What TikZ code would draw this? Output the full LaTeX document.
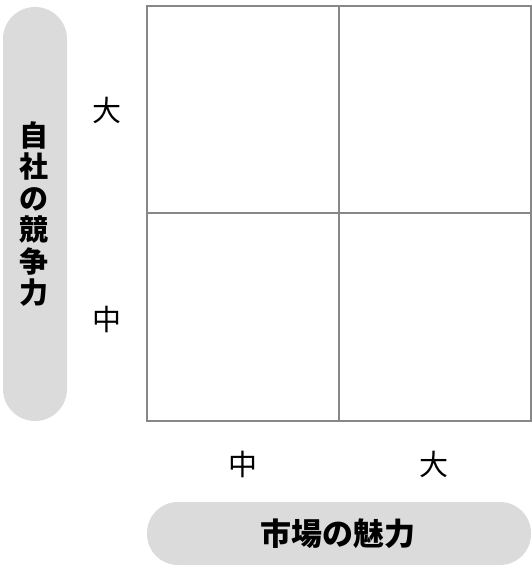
\documentclass[tikz,border=0pt]{standalone}
\usepackage{fontspec}
\setmainfont{Noto Sans CJK JP}

\begin{document}
\begin{tikzpicture}[x=1pt,y=-1pt,
    pill/.style={fill=black!14,draw=none},
    gridline/.style={draw=black!47,line width=1.4pt},
    axislabel/.style={font=\fontsize{29}{31.5}\selectfont\bfseries,align=center},
    level/.style={font=\fontsize{29}{29}\selectfont}]
    \useasboundingbox (0,0) rectangle (531,567);
    \fill[pill,rounded corners=32pt] (3,7) rectangle (67,421);
    \fill[pill,rounded corners=31pt] (147,502) rectangle (531,565);
    \draw[gridline] (147,6) rectangle (531,421);
    \draw[gridline] (339,6) -- (339,421);
    \draw[gridline] (147,213) -- (531,213);
    \node[axislabel] (comp) at (34,214) {自\\社\\の\\競\\争\\力};
    \node[axislabel,font=\fontsize{31}{31}\selectfont\bfseries] (market) at (338,534) {市場の魅力};
    \node[level] (vbig) at (107,110) {大};
    \node[level] (vmid) at (107,319) {中};
    \node[level] (hmid) at (243,464) {中};
    \node[level] (hbig) at (434,464) {大};
\end{tikzpicture}
\end{document}
